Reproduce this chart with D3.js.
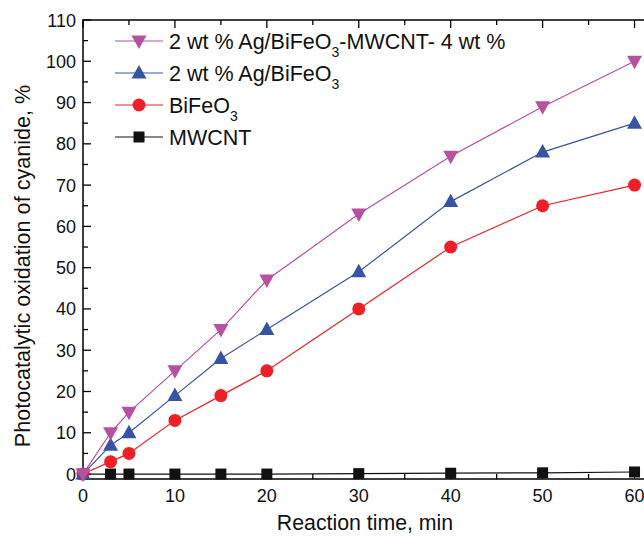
<!DOCTYPE html>
<html><head><meta charset="utf-8">
<script src="https://cdn.jsdelivr.net/npm/d3@7/dist/d3.min.js"></script>
<style>body{margin:0;background:#fff}svg{display:block}text{font-family:"Liberation Sans",Arial,sans-serif;fill:#111}</style>
</head><body><svg id="c" width="644" height="536"></svg>
<script>
const times = [0, 3, 5, 10, 15, 20, 30, 40, 50, 60];
const agBfoMwcnt = [0, 10, 15, 25, 35, 47, 63, 77, 89, 100];
const agBfo = [0, 7, 10, 19, 28, 35, 49, 66, 78, 85];
const bfo = [0, 3, 5, 13, 19, 25, 40, 55, 65, 70];
const mwcnt = [0, 0, 0, 0, 0, 0, 0.1, 0.2, 0.3, 0.5];
const xTicks = [0, 10, 20, 30, 40, 50, 60];
const yTicks = [0, 10, 20, 30, 40, 50, 60, 70, 80, 90, 100, 110];

const series = [
  {name: "MWCNT", vals: mwcnt, color: "#111111", sym: "square"},
  {name: "BiFeO3", vals: bfo, color: "#ee2027", sym: "circle"},
  {name: "agBfo", vals: agBfo, color: "#3953a4", sym: "up"},
  {name: "agBfoM", vals: agBfoMwcnt, color: "#b6509f", sym: "down"}
];

const svg = d3.select("#c");
const L = 83, T = 20, B = 479, R = 652;
const x = d3.scaleLinear().domain([0, 61.9]).range([L, R]);
const y = d3.scaleLinear().domain([-1.2, 110]).range([B, T]);

// frame
svg.append("rect").attr("x", L).attr("y", T).attr("width", R - L).attr("height", B - T)
  .attr("fill", "none").attr("stroke", "#000").attr("stroke-width", 1.5);

const minorX = d3.range(5, 61, 10);
const minorY = d3.range(5, 111, 10);
const tickG = svg.append("g").attr("stroke", "#000").attr("stroke-width", 1.3);
xTicks.forEach(v => {
  tickG.append("line").attr("x1", x(v)).attr("x2", x(v)).attr("y1", B).attr("y2", B - 8);
  tickG.append("line").attr("x1", x(v)).attr("x2", x(v)).attr("y1", T).attr("y2", T + 8);
});
minorX.forEach(v => {
  tickG.append("line").attr("x1", x(v)).attr("x2", x(v)).attr("y1", B).attr("y2", B - 5);
  tickG.append("line").attr("x1", x(v)).attr("x2", x(v)).attr("y1", T).attr("y2", T + 5);
});
yTicks.forEach(v => {
  tickG.append("line").attr("x1", L).attr("x2", L + 8).attr("y1", y(v)).attr("y2", y(v));
});
minorY.forEach(v => {
  tickG.append("line").attr("x1", L).attr("x2", L + 5).attr("y1", y(v)).attr("y2", y(v));
});

// tick labels
svg.append("g").selectAll("text").data(xTicks).join("text")
  .attr("x", d => x(d)).attr("y", 502).attr("text-anchor", "middle")
  .attr("font-size", 18).text(d => d);
svg.append("g").selectAll("text").data(yTicks).join("text")
  .attr("x", 76).attr("y", d => y(d) + 6.5).attr("text-anchor", "end")
  .attr("font-size", 18).text(d => d);

// axis titles
svg.append("text").attr("x", 365).attr("y", 530).attr("text-anchor", "middle")
  .attr("font-size", 21.3).text("Reaction time, min");
svg.append("text").attr("transform", "translate(30,266) rotate(-90)").attr("text-anchor", "middle")
  .attr("font-size", 21.6).text("Photocatalytic oxidation of cyanide, %");

function marker(g, sym, cx, cy, color) {
  if (sym === "square") {
    g.append("rect").attr("x", cx - 5.5).attr("y", cy - 5.5).attr("width", 11).attr("height", 11).attr("fill", color);
  } else if (sym === "circle") {
    g.append("circle").attr("cx", cx).attr("cy", cy).attr("r", 6.5).attr("fill", color);
  } else if (sym === "up") {
    g.append("path").attr("d", `M${cx},${cy - 8}L${cx + 7.5},${cy + 5.5}L${cx - 7.5},${cy + 5.5}Z`).attr("fill", color);
  } else {
    g.append("path").attr("d", `M${cx},${cy + 8}L${cx + 7.5},${cy - 5.5}L${cx - 7.5},${cy - 5.5}Z`).attr("fill", color);
  }
}

const line = d3.line().x((d, i) => x(times[i])).y(d => y(d));
const plot = svg.append("g");
series.forEach(s => {
  plot.append("path").attr("d", line(s.vals)).attr("fill", "none")
    .attr("stroke", s.color).attr("stroke-width", 1.2);
  s.vals.forEach((v, i) => marker(plot, s.sym, x(times[i]), y(v), s.color));
});

// legend
const legend = [
  {label: ["2 wt % Ag/BiFeO", "3", "-MWCNT- 4 wt %"], color: "#b6509f", sym: "down"},
  {label: ["2 wt % Ag/BiFeO", "3", ""], color: "#3953a4", sym: "up"},
  {label: ["BiFeO", "3", ""], color: "#ee2027", sym: "circle"},
  {label: ["MWCNT", "", ""], color: "#111111", sym: "square"}
];
const lg = svg.append("g");
legend.forEach((e, i) => {
  const cy = 41 + i * 32;
  lg.append("line").attr("x1", 115).attr("x2", 163).attr("y1", cy).attr("y2", cy)
    .attr("stroke", e.color).attr("stroke-width", 1.2);
  marker(lg, e.sym, 139, cy, e.color);
  const t = lg.append("text").attr("x", 169).attr("y", cy + 7.5).attr("font-size", 21.5);
  t.append("tspan").text(e.label[0]);
  if (e.label[1]) t.append("tspan").attr("font-size", 14).attr("dy", 8).text(e.label[1]);
  if (e.label[2]) t.append("tspan").attr("dy", -8).text(e.label[2]);
});
</script></body></html>
